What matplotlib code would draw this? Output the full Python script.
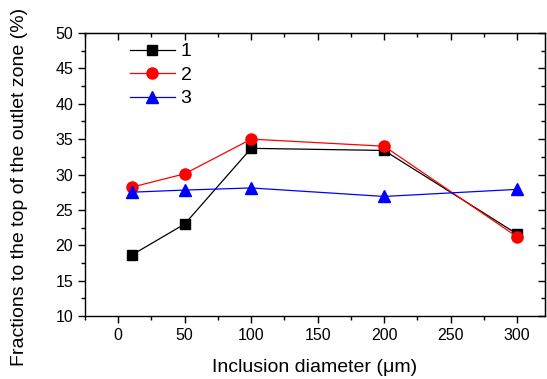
import matplotlib
matplotlib.use("Agg")
import matplotlib.pyplot as plt
from matplotlib.ticker import MultipleLocator

plt.rcParams['font.family'] = ['Liberation Sans', 'DejaVu Sans']

# data
diameter = [10, 50, 100, 200, 300]
series_1 = [18.6, 23.0, 33.7, 33.4, 21.6]
series_2 = [28.2, 30.1, 35.0, 34.0, 21.2]
series_3 = [27.5, 27.8, 28.1, 26.9, 27.9]
labels = ['1', '2', '3']

fig = plt.figure(figsize=(5.47, 3.79), dpi=100)
ax = fig.add_axes([0.1554, 0.1662, 0.8409, 0.7467])

ax.plot(diameter, series_1, color='black', marker='s', markersize=7, lw=0.9, label=labels[0])
ax.plot(diameter, series_2, color='red', marker='o', markersize=8, lw=0.9, label=labels[1])
ax.plot(diameter, series_3, color='blue', marker='^', markersize=8, lw=0.9, label=labels[2])

ax.set_xlim(-25, 321)
ax.set_ylim(10, 50)
ax.xaxis.set_major_locator(MultipleLocator(50))
ax.xaxis.set_minor_locator(MultipleLocator(25))
ax.yaxis.set_major_locator(MultipleLocator(5))
ax.yaxis.set_minor_locator(MultipleLocator(2.5))

ax.tick_params(which='both', direction='out', top=False, right=False, labelsize=11.5, width=1)
ax.tick_params(which='major', length=5)
ax.tick_params(which='minor', length=3)

# mirrored inward ticks on top and right
ax_top = ax.secondary_xaxis('top')
ax_top.xaxis.set_major_locator(MultipleLocator(50))
ax_top.xaxis.set_minor_locator(MultipleLocator(25))
ax_top.tick_params(which='both', direction='in', labeltop=False, width=1)
ax_top.tick_params(which='major', length=5)
ax_top.tick_params(which='minor', length=3)
ax_right = ax.secondary_yaxis('right')
ax_right.yaxis.set_major_locator(MultipleLocator(5))
ax_right.yaxis.set_minor_locator(MultipleLocator(2.5))
ax_right.tick_params(which='both', direction='in', labelright=False, width=1)
ax_right.tick_params(which='major', length=5)
ax_right.tick_params(which='minor', length=3)

for s in ax.spines.values():
    s.set_linewidth(1)

ax.set_xlabel('Inclusion diameter (\u03bcm)', fontsize=14, labelpad=12)
ax.set_ylabel('Fractions to the top of the outlet zone (%)', fontsize=14)
ax.yaxis.set_label_coords(-0.124, 0.456)

ax.legend(loc='upper left', bbox_to_anchor=(0.06, 1.027), frameon=False, fontsize=14,
          handlelength=2.3, handletextpad=0.3, labelspacing=0.3)

fig.savefig('out.png', dpi=100)
